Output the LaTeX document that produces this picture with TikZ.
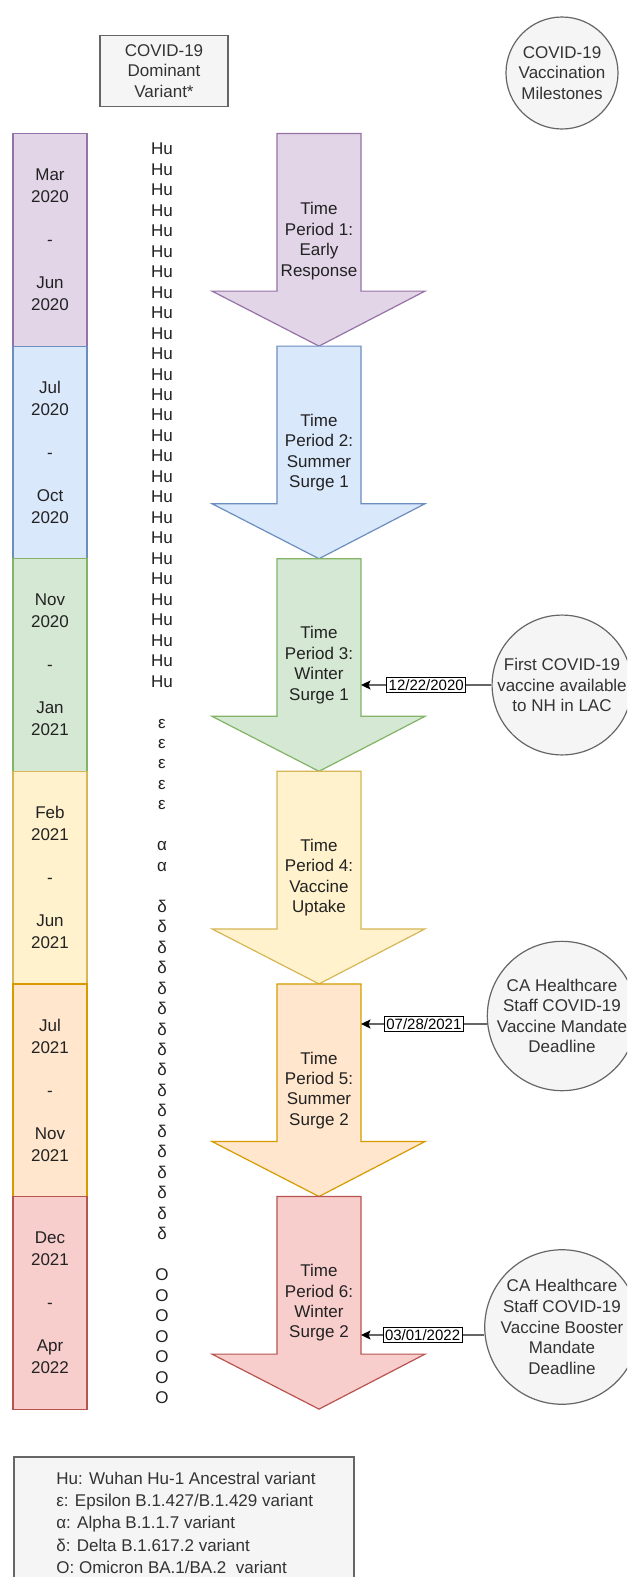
\documentclass[tikz,border=0pt]{standalone}
\usepackage{fontspec}
\setmainfont{Liberation Sans}
\usetikzlibrary{arrows.meta}
\definecolor{purF}{HTML}{E1D5E7}\definecolor{purS}{HTML}{9673A6}
\definecolor{bluF}{HTML}{DAE8FC}\definecolor{bluS}{HTML}{6C8EBF}
\definecolor{grnF}{HTML}{D5E8D4}\definecolor{grnS}{HTML}{82B366}
\definecolor{yelF}{HTML}{FFF2CC}\definecolor{yelS}{HTML}{D6B656}
\definecolor{orgF}{HTML}{FFE6CC}\definecolor{orgS}{HTML}{D79B00}
\definecolor{redF}{HTML}{F8CECC}\definecolor{redS}{HTML}{B85450}
\definecolor{gryF}{HTML}{F5F5F5}\definecolor{gryS}{HTML}{666666}
\definecolor{ink}{HTML}{222222}
\definecolor{ink2}{HTML}{333333}

\tikzset{
  txt/.style={font=\fontsize{17}{20.4}\selectfont, text=ink, align=center, inner sep=0pt},
  periodbox/.style={draw, line width=1.2pt, minimum width=74pt, minimum height=212.6pt,
    inner sep=0pt, font=\fontsize{17}{21.6}\selectfont, text=ink, align=center},
  arrowshape/.style={line width=1.2pt, line join=miter},
  graybox/.style={draw=gryS, fill=gryF, line width=1.2pt, text=ink2,
    font=\fontsize{17}{20.6}\selectfont, align=center, inner sep=0pt},
  milestone/.style={graybox, circle, minimum size=128pt},
  datelbl/.style={draw=black, fill=white, line width=1pt, font=\fontsize{15}{16}\selectfont,
    text=black, inner xsep=2pt, inner ysep=2pt},
  conn/.style={draw=black!60, line width=1.5pt, -{Stealth[length=9.5pt,width=9pt,inset=2pt,black]}},
}

\newcommand\periodarrow[4]{%
  \pgfmathsetmacro\myShY{#2-55}%
  \draw[arrowshape, fill=#3, draw=#4] (277,#1) -- (361,#1) -- (361,\myShY) -- (425,\myShY)
    -- (319,#2) -- (212,\myShY) -- (277,\myShY) -- cycle;%
}

\begin{document}
\begin{tikzpicture}[x=1pt,y=-1pt]
\useasboundingbox (0,0) rectangle (627,1577);
\clip (0,0) rectangle (627,1577);
\fill[white] (0,0) rectangle (627,1577);

% header
\node[graybox, minimum width=128pt, minimum height=71pt] (hdr) at (164,71)
  {COVID-19\\Dominant\\Variant*};
\node[milestone, minimum size=112pt] (mhdr) at (562,73)
  {COVID-19\\Vaccination\\Milestones};

% period boxes
\node[periodbox, fill=purF, draw=purS] (p1) at (50,239.8) {Mar\\2020\\[21.6pt]-\\[21.6pt]Jun\\2020};
\node[periodbox, fill=bluF, draw=bluS] (p2) at (50,452.4) {Jul\\2020\\[21.6pt]-\\[21.6pt]Oct\\2020};
\node[periodbox, fill=grnF, draw=grnS] (p3) at (50,665.0) {Nov\\2020\\[21.6pt]-\\[21.6pt]Jan\\2021};
\node[periodbox, fill=yelF, draw=yelS] (p4) at (50,877.6) {Feb\\2021\\[21.6pt]-\\[21.6pt]Jun\\2021};
\node[periodbox, fill=orgF, draw=orgS] (p5) at (50,1090.2) {Jul\\2021\\[21.6pt]-\\[21.6pt]Nov\\2021};
\node[periodbox, fill=redF, draw=redS] (p6) at (50,1302.8) {Dec\\2021\\[21.6pt]-\\[21.6pt]Apr\\2022};

% variant column
\node[txt, font=\fontsize{17}{20.47}\selectfont] (var) at (162,773.4)
 {Hu\\Hu\\Hu\\Hu\\Hu\\Hu\\Hu\\Hu\\Hu\\Hu\\Hu\\Hu\\Hu\\Hu\\Hu\\Hu\\Hu\\Hu\\Hu\\Hu\\Hu\\Hu\\Hu\\Hu\\Hu\\Hu\\Hu\\[20.47pt]%
  ε\\ε\\ε\\ε\\ε\\[20.47pt]%
  α\\α\\[20.47pt]%
  δ\\δ\\δ\\δ\\δ\\δ\\δ\\δ\\δ\\δ\\δ\\δ\\δ\\δ\\δ\\δ\\δ\\[20.47pt]%
  O\\O\\O\\O\\O\\O\\O};

% time period arrows
\periodarrow{133.5}{346.1}{purF}{purS}
\node[txt] (a1) at (319,241) {Time\\Period 1:\\Early\\Response};
\periodarrow{346.1}{558.7}{bluF}{bluS}
\node[txt] (a2) at (319,452.4) {Time\\Period 2:\\Summer\\Surge 1};
\periodarrow{558.7}{771.3}{grnF}{grnS}
\node[txt] (a3) at (319,665.0) {Time\\Period 3:\\Winter\\Surge 1};
\periodarrow{771.3}{983.9}{yelF}{yelS}
\node[txt] (a4) at (319,877.6) {Time\\Period 4:\\Vaccine\\Uptake};
\periodarrow{983.9}{1196.5}{orgF}{orgS}
\node[txt] (a5) at (319,1090.2) {Time\\Period 5:\\Summer\\Surge 2};
\periodarrow{1196.5}{1409.1}{redF}{redS}
\node[txt] (a6) at (319,1302.8) {Time\\Period 6:\\Winter\\Surge 2};

% milestones
\node[milestone] (m1) at (562,685) {First COVID-19\\vaccine available\\to NH in LAC};
\node[milestone] (m2) at (562,1016) {CA Healthcare\\Staff COVID-19\\Vaccine Mandate\\Deadline};
\node[milestone, minimum size=132pt] (m3) at (562,1327) {CA Healthcare\\Staff COVID-19\\Vaccine Booster\\Mandate\\Deadline};

\coordinate (s3) at (361,685);
\coordinate (s5) at (361,1024);
\coordinate (s6) at (361,1335);
\draw[conn] (m1) -- node[datelbl] (d1) {12/22/2020} (s3);
\draw[conn] (m2.west |- s5) -- node[datelbl] (d2) {07/28/2021} (s5);
\draw[conn] (m3.west |- s6) -- node[datelbl] (d3) {03/01/2022} (s6);

% legend
\draw[draw=gryS, fill=gryF, line width=1.2pt] (14,1457) rectangle (354,1600);
\node[txt, text=ink2, align=left, anchor=north, font=\fontsize{17}{22.2}\selectfont] (leg) at (186,1472)
 {Hu: Wuhan Hu-1 Ancestral variant\\
  ε: Epsilon B.1.427/B.1.429 variant\\
  α: Alpha B.1.1.7 variant\\
  δ: Delta B.1.617.2 variant\\
  O: Omicron BA.1/BA.2\ \ variant};
\end{tikzpicture}
\end{document}
